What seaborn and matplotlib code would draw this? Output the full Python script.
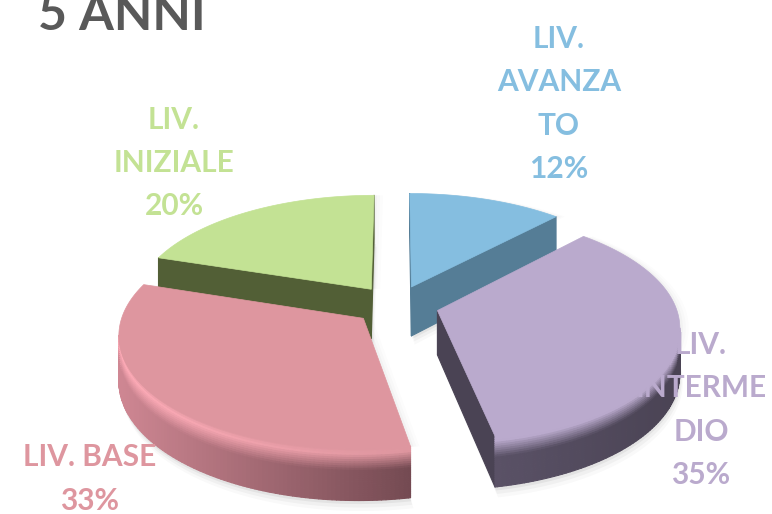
#!/usr/bin/env python3
# coding=utf-8

from matplotlib import pyplot as plt
from matplotlib.collections import PolyCollection
from matplotlib.colors import to_rgb
from matplotlib.transforms import Affine2D
import numpy as np
import seaborn as sns

title = "5 ANNI"
levels = ["LIV.\nAVANZA\nTO", "LIV.\nINTERME\nDIO", "LIV. BASE", "LIV.\nINIZIALE"]
shares = [12, 35, 33, 20]
top_colors = ["#85bee0", "#baaacd", "#de969f", "#c3e294"]
wall_left = ["#4f7a93", "#5f566c", "#cf8793", "#525f36"]
wall_right = ["#557d96", "#4a4354", "#744a52", "#525f36"]
rim_colors = ["#85bee0", "#baaacd", "#ffacb8", "#c3e294"]
wall_depth = [50, 44, 44, 50]

# label centre in pixels (x, y)
label_pos = [(559, 104), (701, 410), (90, 479), (174, 163)]
draw_order = [3, 0, 2, 1]

CX, CY = 396, 305
RX, RY = 238, 110
TILT = 0.13


def project(pts, h=0.0):
    """Unit pie plane to picture pixels, with a bit of perspective"""
    s = 1 / (1 + TILT * pts[:, 1])
    return np.column_stack([CX + RX * pts[:, 0] * s, CY - RY * pts[:, 1] * s + h * s])


def wedge_outline(wedge):
    path = wedge.get_patch_transform().transform_path(wedge.get_path())
    big = path.transformed(Affine2D().scale(2000))
    return big.to_polygons(closed_only=True)[0] / 2000


def wall_shade(t, left, right, rim, top, frac):
    wall = left * (1 - frac) + right * frac
    glow = rim * (1 - frac) + top * frac
    stops = np.array([0, 0.1, 0.42, 1])
    return np.array([np.interp(t, stops, [top[i], glow[i], wall[i], wall[i]]) for i in range(3)])


def draw_slice(ax, wedge, index, layer):
    outline = wedge_outline(wedge)
    poly = project(outline)
    depth = wall_depth[index]
    xmin, xmax = poly[:, 0].min(), poly[:, 0].max()
    x, y = poly[:, 0], poly[:, 1]
    area = np.sum(x[:-1] * y[1:] - x[1:] * y[:-1])

    left, right = to_rgb(wall_left[index]), to_rgb(wall_right[index])
    rim, top = to_rgb(rim_colors[index]), to_rgb(top_colors[index])
    left, right, rim, top = map(np.array, (left, right, rim, top))

    # soft shadow under the slice
    for off, alpha in [(9, 0.025), (6, 0.035), (3, 0.05)]:
        low = project(outline, depth + off)
        ax.fill(low[:, 0] + off / 3, low[:, 1], color="black", alpha=alpha, lw=0, zorder=1)
        ax.fill(poly[:, 0] + off, poly[:, 1], color="black", alpha=alpha / 2, lw=0, zorder=1)

    bands = np.linspace(0, 1, 25)
    quads, colors, order = [], [], []
    for a, b in zip(range(len(outline) - 1), range(1, len(outline))):
        dx = poly[b, 0] - poly[a, 0]
        if -dx * np.sign(area) <= 0:
            continue
        seg = outline[[a, b]]
        if np.hypot(dx, poly[b, 1] - poly[a, 1]) >= 60:
            # flat cut side, one plain face
            p0, p1 = project(seg), project(seg, depth)
            quads.append([p0[0], p0[1], p1[1], p1[0]])
            colors.append(right)
            order.append(p0[:, 1].mean())
            continue
        frac = (poly[[a, b], 0].mean() - xmin) / (xmax - xmin)
        for t0, t1 in zip(bands[:-1], bands[1:]):
            p0 = project(seg, depth * t0)
            p1 = project(seg, depth * t1)
            quads.append([p0[0], p0[1], p1[1], p1[0]])
            colors.append(wall_shade((t0 + t1) / 2, left, right, rim, top, frac))
            order.append(p0[:, 1].mean())
    idx = np.argsort(order)
    quad_colors = np.array(colors)[idx]
    ax.add_collection(PolyCollection(np.array(quads)[idx], facecolors=quad_colors, edgecolors=quad_colors,
                                     linewidths=0.8, zorder=10 + layer))
    ax.fill(poly[:, 0], poly[:, 1], color=top, lw=0.5, zorder=10 + layer)


sns.set_theme(style="white")
plt.rcParams['font.family'] = ['Lato', 'DejaVu Sans']

fig = plt.figure(figsize=(7.72, 5.14), dpi=100)
ax = fig.add_axes([0, 0, 1, 1])

wedges, _ = ax.pie(shares, explode=[0.18] * len(shares), startangle=90, counterclock=False,
                   colors=sns.color_palette(top_colors))
ax.set_aspect('auto')
ax.set_xlim(0, 772)
ax.set_ylim(514, 0)
ax.axis('off')

for layer, i in enumerate(draw_order):
    wedges[i].set_visible(False)
    draw_slice(ax, wedges[i], i, layer)

for i, level in enumerate(levels):
    px, py = label_pos[i]
    ax.text(px, py, f"{level}\n{shares[i]}%", color=top_colors[i], fontsize=21.5, fontweight='bold',
            ha='center', va='center', multialignment='center', linespacing=1.67, zorder=50)

ax.text(38, 29.5, title, color="#595959", fontsize=36, fontweight='bold', ha='left', va='baseline', zorder=50)

fig.savefig("out.png", dpi=100)
